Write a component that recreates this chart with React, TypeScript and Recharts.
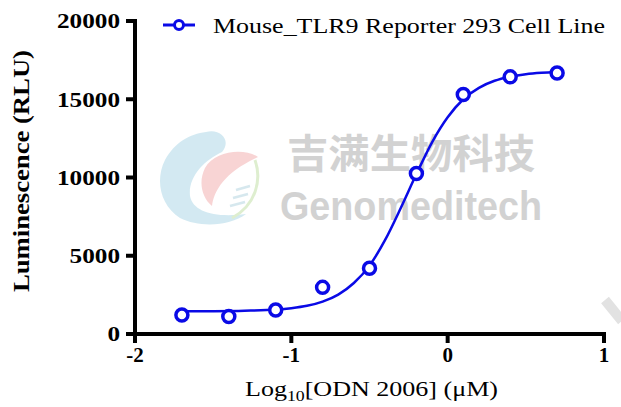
import React from 'react';
import { ComposedChart, Line, Scatter, XAxis, YAxis } from 'recharts';

// measured points (log10 conc, RLU)
const doseLog = [-1.7, -1.4, -1.1, -0.8, -0.5, -0.2, 0.1, 0.4, 0.7];
const rlu = [1210, 1120, 1530, 2980, 4200, 10250, 15300, 16430, 16680];

// fitted curve
const curveX = [-1.7, -1.5, -1.3, -1.1, -1.0, -0.9, -0.8, -0.7, -0.6, -0.5, -0.4, -0.3, -0.2, -0.1, 0.0, 0.1, 0.2, 0.3, 0.4, 0.5, 0.6, 0.7];
const curveY = [1450, 1460, 1490, 1560, 1650, 1800, 2070, 2520, 3260, 4370, 6010, 8050, 10220, 12250, 13850, 15000, 15730, 16180, 16440, 16600, 16690, 16740];

const xTicks = [-2, -1, 0, 1];
const yTicks = [0, 5000, 10000, 15000, 20000];
const seriesName = 'Mouse_TLR9 Reporter 293 Cell Line';

const BLUE = '#0a0ae6';
const SERIF = "'Liberation Serif', 'Times New Roman', Times, serif";
const serif = { fontFamily: SERIF };

const points = doseLog.map((x, i) => ({ x, y: rlu[i] }));
const curve = curveX.map((x, i) => ({ x, y: curveY[i] }));

const YTick = (props: any) => {
  const { x, y, payload } = props;
  const s = String(payload.value);
  return (
    <text x={x} y={y} dy="0.35em" textAnchor="end" style={serif} fontWeight="bold" fontSize={21}
      fill="#000" textLength={s.length * 12.6} lengthAdjust="spacingAndGlyphs">{s}</text>
  );
};

const XTick = (props: any) => {
  const { x, y, payload } = props;
  const s = String(payload.value);
  return (
    <text x={x} y={y + 17} textAnchor="middle" style={serif} fontWeight="bold" fontSize={21} fill="#000">{s}</text>
  );
};

const Dot = (props: any) => {
  const { cx, cy } = props;
  return <circle cx={cx} cy={cy} r={6} fill="#fff" stroke={BLUE} strokeWidth={3.5} />;
};

const Backdrop = () => (
  <svg width={621} height={407} style={{ position: 'absolute', left: 0, top: 0 }}>
    {/* watermark logo */}
    <g opacity={0.6}>
      <path d="M206 132 C220 128 232 140 222 152 C205 160 188 176 190 196 C193 212 215 218 246 214 C230 226 200 228 180 218 C160 205 155 180 165 160 C175 142 190 134 206 132 Z" fill="#b6dcea" />
      <path d="M258 157 C245 148 215 150 205 168 C198 182 202 198 212 206 C214 190 225 172 258 157 Z" fill="#f5b8b9" />
      <path d="M255 160 C262 180 256 205 232 218" fill="none" stroke="#c9e4b0" strokeWidth={3} />
      <path d="M236 190 L250 186 M233 198 L248 194 M230 206 L245 202" stroke="#bcd9e4" strokeWidth={2.5} />
    </g>
    <text x={287} y={168} fontFamily="'Noto Sans CJK SC', sans-serif" fontWeight="bold" fontSize={40} fill="#d2d2d2"
      textLength={248} lengthAdjust="spacingAndGlyphs">吉满生物科技</text>
    <text x={280} y={220} fontFamily="'Liberation Sans', Arial, sans-serif" fontWeight="bold" fontSize={40} fill="#d2d2d2"
      textLength={262} lengthAdjust="spacingAndGlyphs">Genomeditech</text>
    <line x1={605} y1={300} x2={622} y2={321} stroke="#e2e2e2" strokeWidth={10} />

    {/* legend */}
    <line x1={163} y1={25} x2={195} y2={25} stroke={BLUE} strokeWidth={3} />
    <circle cx={179} cy={25} r={4.5} fill="#fff" stroke={BLUE} strokeWidth={3} />
    <text x={213} y={33} style={serif} fontSize={22} fill="#000" textLength={392} lengthAdjust="spacingAndGlyphs">{seriesName}</text>

    {/* axis titles */}
    <text transform="translate(29,171) rotate(-90)" textAnchor="middle" style={serif} fontWeight="bold" fontSize={23}
      fill="#000" textLength={242} lengthAdjust="spacingAndGlyphs">Luminescence (RLU)</text>
    <text x={245} y={396} style={serif} fontSize={22} fill="#000" textLength={253} lengthAdjust="spacingAndGlyphs">
      <tspan>Log</tspan>
      <tspan fontSize={15} dy={5}>10</tspan>
      <tspan dy={-5}>[ODN 2006] (μM)</tspan>
    </text>
  </svg>
);

export default function App() {
  return (
    <div style={{ position: 'absolute', left: 0, top: 0, width: 621, height: 407, background: '#fff', overflow: 'hidden' }}>
      <Backdrop />
      <div style={{ position: 'absolute', left: 0, top: 0 }}>
        <ComposedChart width={621} height={407} margin={{ top: 21, right: 17, bottom: 0, left: 0 }}>
          <XAxis
            type="number"
            dataKey="x"
            domain={[-2, 1]}
            ticks={xTicks}
            height={73}
            axisLine={{ stroke: '#000', strokeWidth: 4, strokeLinecap: 'square' }}
            tickLine={{ stroke: '#000', strokeWidth: 4 }}
            tickSize={9}
            tick={<XTick />}
            allowDataOverflow
          />
          <YAxis
            type="number"
            dataKey="y"
            domain={[0, 20000]}
            ticks={yTicks}
            width={135}
            axisLine={{ stroke: '#000', strokeWidth: 4, strokeLinecap: 'square' }}
            tickLine={{ stroke: '#000', strokeWidth: 4 }}
            tickSize={9}
            tickMargin={6}
            tick={<YTick />}
            allowDataOverflow
          />
          <Line
            data={curve}
            dataKey="y"
            type="monotone"
            stroke={BLUE}
            strokeWidth={2.5}
            dot={false}
            activeDot={false}
            isAnimationActive={false}
          />
          <Scatter data={points} dataKey="y" shape={<Dot />} isAnimationActive={false} />
        </ComposedChart>
      </div>
    </div>
  );
}
